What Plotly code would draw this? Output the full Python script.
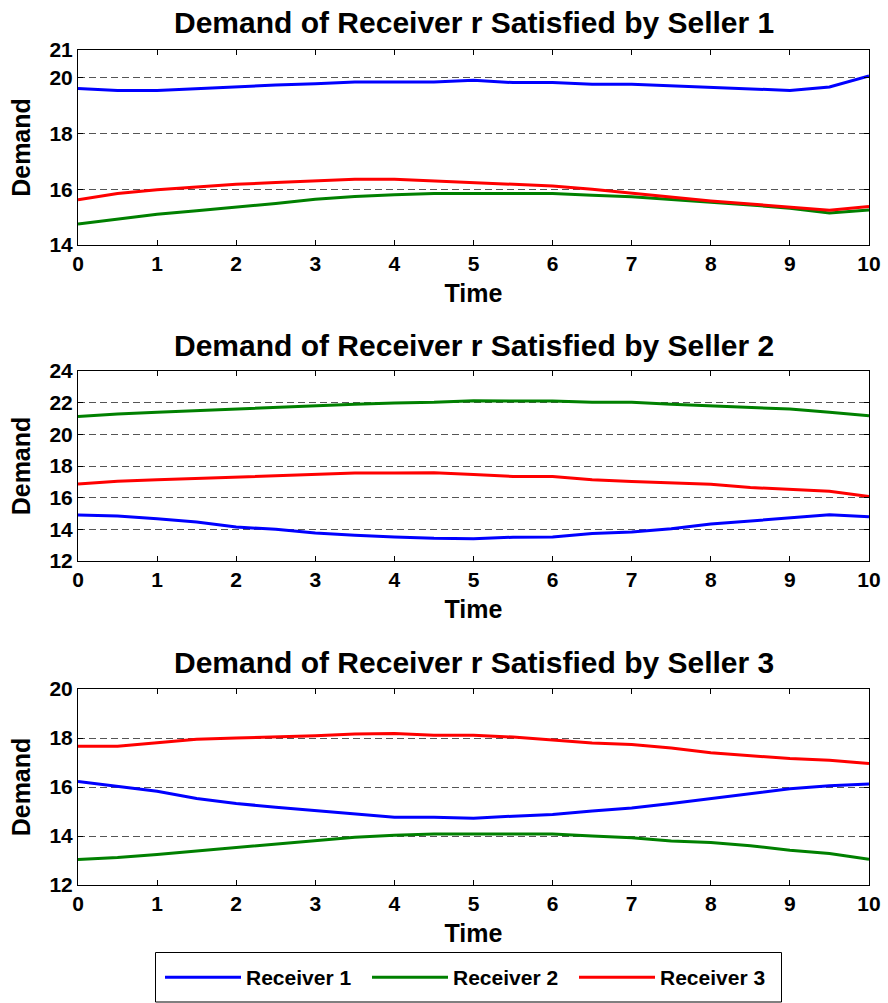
import plotly.graph_objects as go

# ---------------- data ----------------
time = [0, 0.5, 1, 1.5, 2, 2.5, 3, 3.5, 4, 4.5, 5, 5.5, 6, 6.5, 7, 7.5, 8, 8.5, 9, 9.5, 10]
series_names = ["Receiver 1", "Receiver 2", "Receiver 3"]
series_colors = ["#0000FF", "#008000", "#FF0000"]
titles = ["Demand of Receiver r Satisfied by Seller 1",
          "Demand of Receiver r Satisfied by Seller 2",
          "Demand of Receiver r Satisfied by Seller 3"]

s1_r1 = [19.62, 19.55, 19.55, 19.62, 19.68, 19.74, 19.79, 19.85, 19.85, 19.85, 19.91,
         19.83, 19.83, 19.77, 19.77, 19.72, 19.67, 19.61, 19.55, 19.67, 20.07]
s1_r2 = [14.75, 14.93, 15.10, 15.23, 15.35, 15.49, 15.64, 15.74, 15.80, 15.85, 15.85,
         15.85, 15.85, 15.79, 15.73, 15.63, 15.54, 15.44, 15.32, 15.15, 15.26]
s1_r3 = [15.62, 15.85, 15.98, 16.08, 16.18, 16.24, 16.30, 16.36, 16.36, 16.30, 16.24,
         16.18, 16.12, 16.00, 15.86, 15.70, 15.58, 15.47, 15.35, 15.25, 15.38]

s2_r1 = [14.90, 14.84, 14.67, 14.46, 14.15, 14.00, 13.77, 13.62, 13.52, 13.43, 13.41,
         13.50, 13.52, 13.73, 13.83, 14.04, 14.33, 14.54, 14.73, 14.92, 14.79]
s2_r2 = [21.12, 21.29, 21.39, 21.50, 21.60, 21.68, 21.79, 21.90, 21.98, 22.02, 22.12,
         22.10, 22.10, 22.02, 22.02, 21.90, 21.79, 21.71, 21.60, 21.39, 21.18]
s2_r3 = [16.87, 17.04, 17.13, 17.21, 17.29, 17.40, 17.44, 17.55, 17.55, 17.57, 17.46,
         17.34, 17.34, 17.13, 17.02, 16.94, 16.85, 16.64, 16.54, 16.41, 16.08]

s3_r1 = [16.22, 16.03, 15.83, 15.53, 15.33, 15.17, 15.04, 14.90, 14.77, 14.77, 14.72,
         14.81, 14.88, 15.02, 15.14, 15.33, 15.53, 15.74, 15.93, 16.05, 16.12]
s3_r2 = [13.04, 13.12, 13.25, 13.39, 13.53, 13.66, 13.81, 13.95, 14.03, 14.08, 14.08,
         14.08, 14.08, 14.00, 13.93, 13.80, 13.73, 13.60, 13.42, 13.29, 13.05]
s3_r3 = [17.66, 17.66, 17.81, 17.95, 18.00, 18.04, 18.09, 18.16, 18.18, 18.11, 18.11,
         18.04, 17.93, 17.80, 17.73, 17.59, 17.40, 17.27, 17.16, 17.09, 16.96]

x_ticks = [0, 1, 2, 3, 4, 5, 6, 7, 8, 9, 10]
y_ticks = [[14, 16, 18, 20, 21], [12, 14, 16, 18, 20, 22, 24], [12, 14, 16, 18, 20]]
y_ranges = [[14, 21], [12, 24], [12, 20]]

panels = [[s1_r1, s1_r2, s1_r3], [s2_r1, s2_r2, s2_r3], [s3_r1, s3_r2, s3_r3]]

# ---------------- layout geometry ----------------
H = 1003.0
W = 888
ML, MR = 78, 19
PW = W - ML - MR
panel_px = [(50, 245), (371, 561), (689, 885)]      # top, bottom in px
title_px = [22, 345, 662]

FONT = "Arial, Liberation Sans, Helvetica, sans-serif"


def px_x(px):
    return (px - ML) / PW


def px_y(px):
    return 1 - px / H


fig = go.Figure()

for p, data in enumerate(panels):
    xa = "x" if p == 0 else f"x{p+1}"
    ya = "y" if p == 0 else f"y{p+1}"
    for k, vals in enumerate(data):
        fig.add_trace(go.Scatter(
            x=time, y=vals, mode="lines", name=series_names[k],
            line=dict(color=series_colors[k], width=3),
            xaxis=xa, yaxis=ya, showlegend=(p == 0), legendgroup=series_names[k],
            hoverinfo="skip"))

layout = dict(
    width=W, height=int(H),
    margin=dict(l=ML, r=MR, t=0, b=0, pad=0),
    paper_bgcolor="white", plot_bgcolor="white",
    template="none",
    font=dict(family=FONT, color="black"),
    showlegend=True,
    legend=dict(
        orientation="h", x=px_x(160), xanchor="left",
        y=px_y(957), yanchor="top",
        borderwidth=0, bgcolor="rgba(0,0,0,0)",
        font=dict(family=FONT, size=21, color="black", weight="bold"),
        itemwidth=76, entrywidth=116, entrywidthmode="pixels",
        tracegroupgap=0, itemsizing="trace",
    ),
    shapes=[dict(type="rect", xref="paper", yref="paper",
                 x0=px_x(155.5), x1=px_x(781.5), y0=px_y(1002), y1=px_y(952.5),
                 line=dict(color="black", width=1), fillcolor="rgba(0,0,0,0)",
                 layer="below")],
)

annotations = []
for p in range(3):
    top, bot = panel_px[p]
    dom = [px_y(bot), px_y(top)]
    xk = "xaxis" if p == 0 else f"xaxis{p+1}"
    yk = "yaxis" if p == 0 else f"yaxis{p+1}"
    anchor_x = "x" if p == 0 else f"x{p+1}"
    anchor_y = "y" if p == 0 else f"y{p+1}"
    layout[xk] = dict(
        domain=[0, 1], anchor=anchor_y, range=[0, 10], tickvals=x_ticks,
        ticks="inside", ticklen=5, tickcolor="black", tickwidth=1,
        showline=True, linecolor="black", linewidth=1, mirror="ticks",
        showgrid=False, zeroline=False, automargin=False,
        tickfont=dict(family=FONT, size=21, color="black", weight="bold"),
        title=dict(text="Time", standoff=10,
                   font=dict(family=FONT, size=25, color="black", weight="bold")),
    )
    layout[yk] = dict(
        domain=dom, anchor=anchor_x, range=y_ranges[p], tickvals=y_ticks[p],
        ticks="inside", ticklen=5, tickcolor="black", tickwidth=1,
        showline=True, linecolor="black", linewidth=1, mirror="ticks",
        showgrid=True, gridcolor="#555555", gridwidth=1, griddash="7px,4px",
        zeroline=False, automargin=False,
        tickfont=dict(family=FONT, size=21, color="black", weight="bold"),
        title=dict(text="Demand", standoff=11,
                   font=dict(family=FONT, size=25, color="black", weight="bold")),
    )
    annotations.append(dict(
        text=titles[p], xref="paper", yref="paper", x=0.5, y=px_y(title_px[p]),
        xanchor="center", yanchor="middle", showarrow=False,
        font=dict(family=FONT, size=30, color="black", weight="bold")))

layout["annotations"] = annotations
fig.update_layout(**layout)

fig.write_html("out.html")
